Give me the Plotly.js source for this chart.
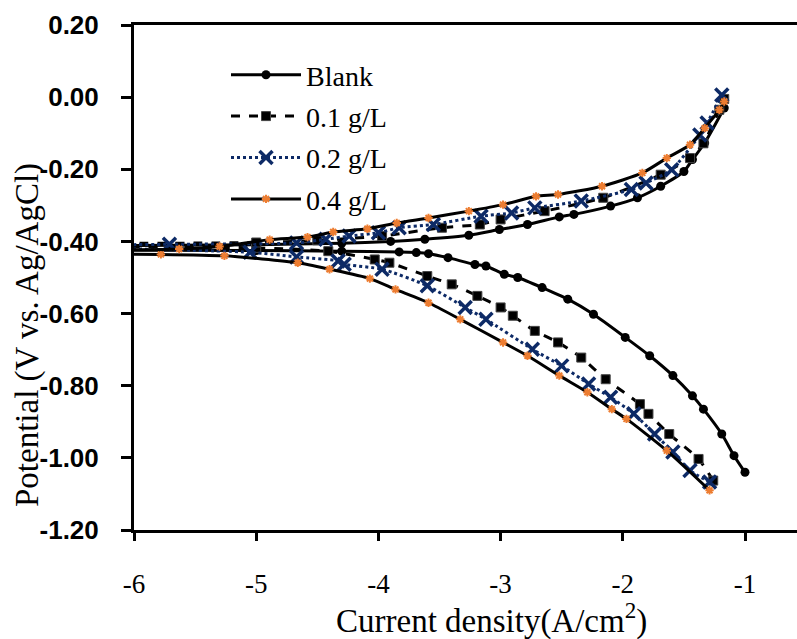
<!DOCTYPE html>
<html>
<head>
<meta charset="utf-8">
<script src="https://cdn.plot.ly/plotly-3.0.1.min.js"></script>
<style>html,body{margin:0;padding:0;background:#fff;}#chart{width:797px;height:639px;}</style>
</head>
<body>
<div id="chart"></div>
<script>
// ---- Data (log current density vs potential) ----
var seriesNames = ["Blank", "0.1 g/L", "0.2 g/L", "0.4 g/L"];

var blankCathX = [-1.00,-1.09,-1.19,-1.34,-1.43,-1.59,-1.78,-1.98,-2.24,-2.45,-2.66,-2.86,-2.97,-3.12,-3.21,-3.43,-3.59,-3.69,-3.83,-4.30,-5.00,-6.40];
var blankCathY = [-1.040,-0.994,-0.934,-0.865,-0.828,-0.772,-0.717,-0.666,-0.602,-0.560,-0.528,-0.500,-0.491,-0.468,-0.464,-0.445,-0.434,-0.431,-0.429,-0.427,-0.425,-0.424];
var blankAnoX = [-6.40,-5.00,-4.30,-3.90,-3.62,-3.26,-3.01,-2.78,-2.52,-2.40,-2.10,-1.88,-1.69,-1.50,-1.43,-1.33,-1.17];
var blankAnoY = [-0.412,-0.409,-0.405,-0.400,-0.394,-0.383,-0.367,-0.353,-0.332,-0.325,-0.302,-0.279,-0.247,-0.206,-0.173,-0.127,-0.030];

var c01CathX = [-1.26,-1.38,-1.62,-1.79,-1.86,-2.14,-2.34,-2.53,-2.72,-2.90,-3.00,-3.19,-3.40,-3.60,-3.91,-4.03,-4.41,-5.00,-6.40];
var c01CathY = [-1.063,-1.003,-0.934,-0.878,-0.851,-0.782,-0.722,-0.680,-0.648,-0.606,-0.583,-0.551,-0.519,-0.496,-0.459,-0.450,-0.427,-0.418,-0.414];
var c01AnoX = [-6.40,-5.00,-4.50,-3.97,-3.48,-3.17,-3.00,-2.64,-2.16,-1.69,-1.45,-1.34,-1.21,-1.17];
var c01AnoY = [-0.406,-0.403,-0.397,-0.385,-0.362,-0.353,-0.339,-0.316,-0.279,-0.215,-0.169,-0.128,-0.035,-0.005];

var c02CathX = [-1.29,-1.45,-1.59,-1.74,-1.91,-2.10,-2.28,-2.50,-2.74,-3.12,-3.29,-3.60,-3.97,-4.28,-4.33,-4.67,-5.05,-6.40];
var c02CathY = [-1.067,-1.035,-0.984,-0.934,-0.878,-0.832,-0.795,-0.745,-0.699,-0.616,-0.583,-0.523,-0.477,-0.463,-0.454,-0.443,-0.430,-0.418];
var c02AnoX = [-6.40,-5.71,-4.67,-4.43,-4.24,-4.00,-3.83,-3.55,-3.16,-2.91,-2.72,-2.34,-1.93,-1.81,-1.60,-1.37,-1.31,-1.19];
var c02AnoY = [-0.410,-0.408,-0.404,-0.394,-0.385,-0.376,-0.362,-0.353,-0.330,-0.321,-0.307,-0.288,-0.256,-0.238,-0.201,-0.105,-0.072,0.006];

var c04CathX = [-1.29,-1.64,-1.97,-2.09,-2.29,-2.52,-2.78,-2.98,-3.33,-3.59,-3.86,-4.07,-4.40,-4.66,-5.26,-5.78,-6.40];
var c04CathY = [-1.090,-0.980,-0.892,-0.865,-0.818,-0.772,-0.717,-0.680,-0.616,-0.570,-0.533,-0.503,-0.477,-0.459,-0.440,-0.436,-0.435];
var c04AnoX = [-6.40,-5.63,-5.30,-4.89,-4.58,-4.37,-4.09,-3.85,-3.59,-3.26,-2.98,-2.71,-2.53,-2.17,-1.84,-1.64,-1.45,-1.33,-1.21,-1.17];
var c04AnoY = [-0.425,-0.421,-0.414,-0.395,-0.388,-0.374,-0.365,-0.349,-0.335,-0.316,-0.298,-0.275,-0.270,-0.247,-0.210,-0.169,-0.132,-0.086,-0.035,-0.012];

var xTickVals = [-6, -5, -4, -3, -2, -1];
var xTickText = ["-6", "-5", "-4", "-3", "-2", "-1"];
var yTickVals = [0.2, 0.0, -0.2, -0.4, -0.6, -0.8, -1.0, -1.2];
var yTickText = ["0.20", "0.00", "-0.20", "-0.40", "-0.60", "-0.80", "-1.00", "-1.20"];

// ---- Styles ----
var SERIF = '"Liberation Serif", "Times New Roman", Times, serif';
var SANS = '"Liberation Sans", Arial, Helvetica, sans-serif';
var navy = "#0d2a66";
var orange = "#ed7d31";
var styles = [
  {line: {color: "black", width: 3, dash: "solid"}, marker: {symbol: "circle", size: 9, color: "black"}},
  {line: {color: "black", width: 3, dash: "dash"}, marker: {symbol: "square", size: 9, color: "black", line: {color: "#444", width: 1}}},
  {line: {color: navy, width: 3, dash: "dot"}, marker: {symbol: "x-thin-open", size: 13, color: navy, line: {color: navy, width: 3.5}}},
  {line: {color: "black", width: 3, dash: "solid"}, marker: {symbol: "asterisk-open", size: 7, color: orange, line: {color: orange, width: 2}}}
];
var branches = [
  [[blankCathX, blankCathY], [blankAnoX, blankAnoY]],
  [[c01CathX, c01CathY], [c01AnoX, c01AnoY]],
  [[c02CathX, c02CathY], [c02AnoX, c02AnoY]],
  [[c04CathX, c04CathY], [c04AnoX, c04AnoY]]
];

var traces = [];
for (var s = 0; s < seriesNames.length; s++) {
  for (var b = 0; b < 2; b++) {
    traces.push({
      type: "scatter",
      mode: "lines+markers",
      x: branches[s][b][0],
      y: branches[s][b][1],
      name: seriesNames[s],
      legendgroup: "g" + s,
      showlegend: b === 0,
      line: Object.assign({shape: "spline", smoothing: 0.6}, styles[s].line),
      marker: styles[s].marker,
      cliponaxis: true,
      hoverinfo: "x+y"
    });
  }
}

var W = 797, H = 639;
var mL = 134, mR = 0, mT = 25, mB = 109;
var pw = W - mL - mR, ph = H - mT - mB;

var layout = {
  width: W, height: H,
  margin: {l: mL, r: mR, t: mT, b: mB, pad: 0},
  paper_bgcolor: "white",
  plot_bgcolor: "white",
  showlegend: true,
  legend: {
    x: (226 - mL) / pw, y: (H - mB - 50) / ph,
    xanchor: "left", yanchor: "top",
    bgcolor: "rgba(0,0,0,0)",
    font: {family: SERIF, size: 28, color: "black"},
    traceorder: "grouped",
    tracegroupgap: 2,
    itemwidth: 70
  },
  xaxis: {
    range: [-6, -6 + pw / 122.2],
    tickvals: xTickVals, ticktext: xTickText,
    showgrid: false, zeroline: false,
    showline: true, linecolor: "black", linewidth: 3, mirror: true,
    ticks: "outside", ticklen: 8, tickwidth: 3, tickcolor: "black",
    ticklabelstandoff: 20,
    tickfont: {family: SERIF, size: 27, color: "black"},
    fixedrange: true
  },
  yaxis: {
    range: [-1.2, 0.2],
    tickvals: yTickVals, ticktext: yTickText,
    showgrid: false, zeroline: false,
    showline: true, linecolor: "black", linewidth: 3, mirror: false,
    ticks: "outside", ticklen: 10, tickwidth: 3, tickcolor: "black",
    ticklabelstandoff: 17,
    tickfont: {family: SANS, size: 26, color: "black", weight: "bold"},
    fixedrange: true
  },
  annotations: [
    {
      text: "Potential (V vs. Ag/AgCl)",
      xref: "paper", yref: "paper",
      x: (27 - mL) / pw, y: (H - mB - 335) / ph,
      xanchor: "center", yanchor: "middle",
      textangle: -90, showarrow: false,
      font: {family: SERIF, size: 33, color: "black"}
    },
    {
      text: "Current density(A/cm<sup>2</sup>)",
      xref: "paper", yref: "paper",
      x: (491 - mL) / pw, y: (H - mB - 618) / ph,
      xanchor: "center", yanchor: "middle",
      showarrow: false,
      font: {family: SERIF, size: 33, color: "black"}
    }
  ]
};

Plotly.newPlot("chart", traces, layout, {displayModeBar: false, staticPlot: true});
</script>
</body>
</html>
